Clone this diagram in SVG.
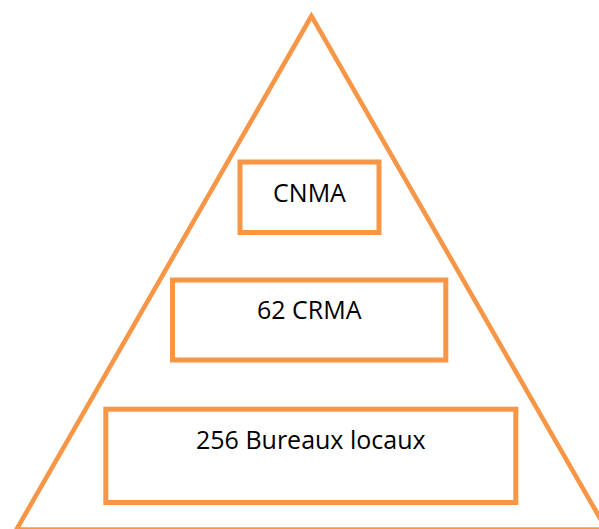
<svg xmlns="http://www.w3.org/2000/svg" width="599" height="529" viewBox="0 0 599 529">
  <style>
    .shape { fill: none; stroke: #F79646; stroke-width: 4.6; }
    .box { fill: #FFFFFF; stroke: #F79646; stroke-width: 5; }
    .label { font-family: "Open Sans", "Liberation Sans", sans-serif; font-size: 25px; fill: #000000; text-anchor: middle; }
  </style>
  <rect width="599" height="529" fill="#FFFFFF"/>
  <g id="pyramid">
    <polygon class="shape" points="311.5,16 16.5,529.5 606.5,529.5" stroke-linejoin="miter"/>
  </g>
  <g id="connectors"></g>
  <g id="cnma">
    <rect class="box" x="240" y="162" width="139" height="70.5"/>
    <text class="label" x="309.5" y="202.3">CNMA</text>
  </g>
  <g id="crma">
    <rect class="box" x="172.5" y="280" width="273.3" height="80"/>
    <text class="label" x="309.2" y="319.3">62 CRMA</text>
  </g>
  <g id="bureaux">
    <rect class="box" x="105.8" y="409.2" width="410" height="93.3"/>
    <text class="label" x="310.8" y="449">256 Bureaux locaux</text>
  </g>
</svg>
